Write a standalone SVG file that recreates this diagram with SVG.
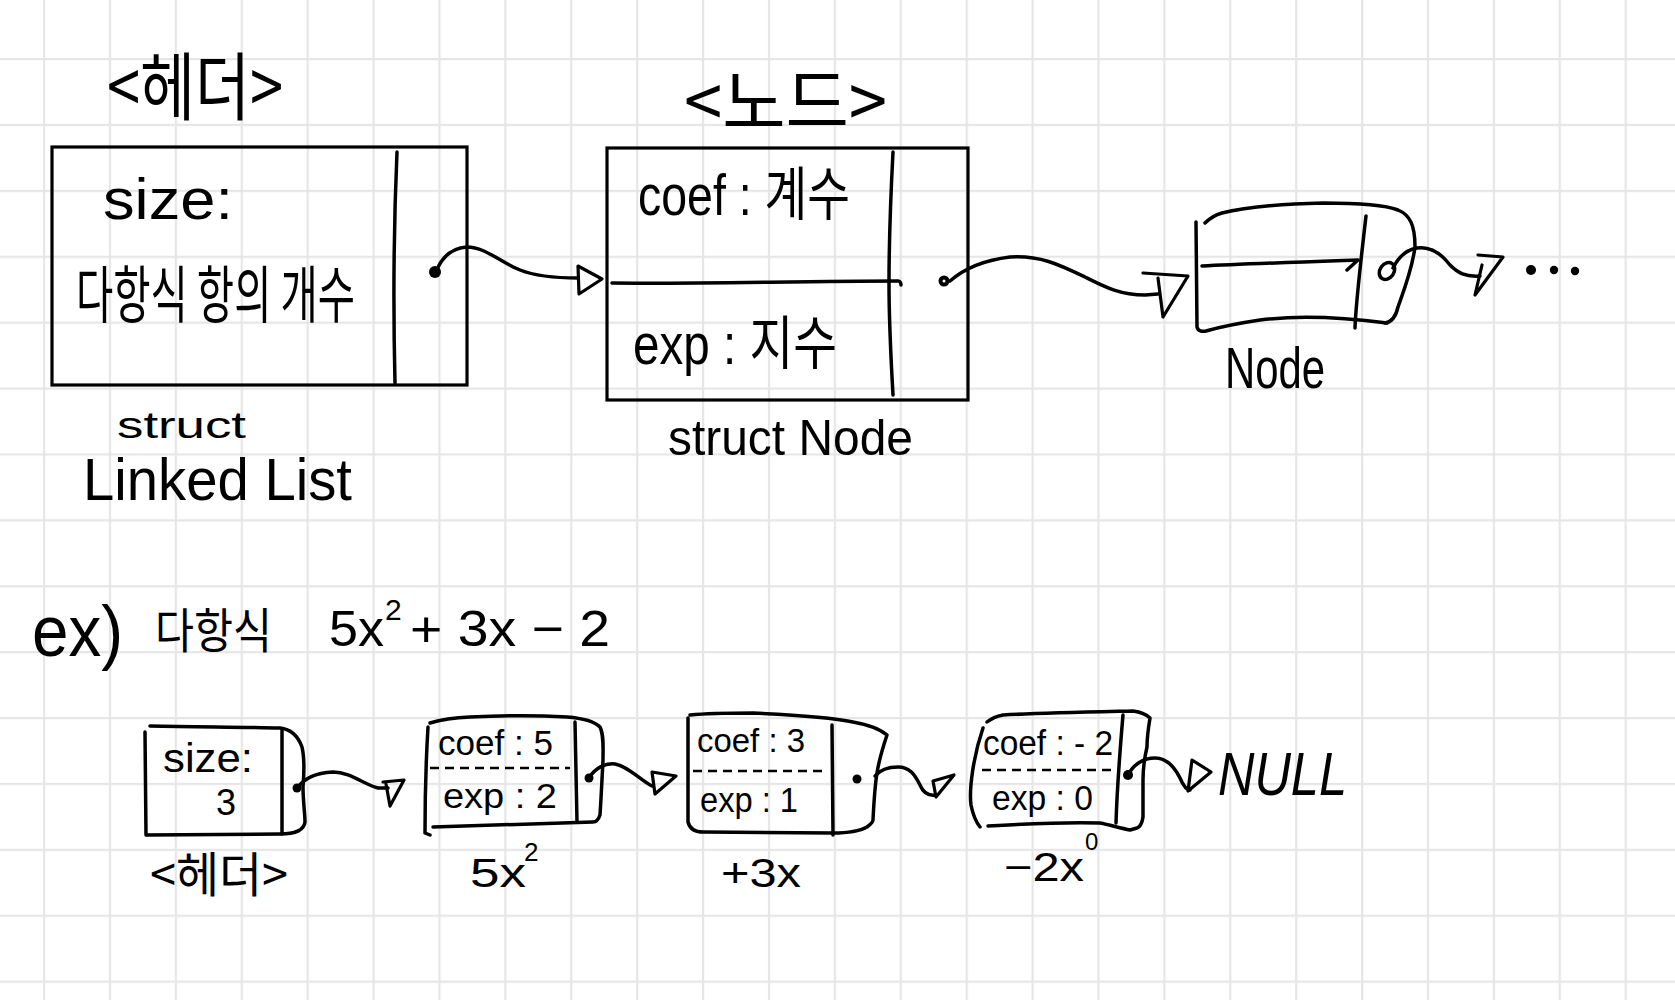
<svg xmlns="http://www.w3.org/2000/svg" width="1675" height="1000" viewBox="0 0 1675 1000">
<defs>
<pattern id="grid" x="43" y="58" width="65.9" height="65.9" patternUnits="userSpaceOnUse">
<rect x="0" y="0" width="2.2" height="65.9" fill="#e6e6e6"/>
<rect x="0" y="0" width="65.9" height="2.2" fill="#e6e6e6"/>
</pattern>
<style>
.ink{fill:none;stroke:#000;stroke-width:3.5;stroke-linecap:round;stroke-linejoin:round}
.box{fill:none;stroke:#000;stroke-width:3.2}
.head{fill:none;stroke:#000;stroke-width:3.2;stroke-linejoin:round;stroke-linecap:round}
.dot{fill:#000}
.t{font-family:"Liberation Sans","Noto Sans CJK KR",sans-serif;fill:#000}
.k{font-family:"Noto Sans CJK KR","Liberation Sans",sans-serif;fill:#000}
.dash{fill:none;stroke:#000;stroke-width:2.5;stroke-dasharray:9 6}
</style>
</defs>
<rect width="1675" height="1000" fill="#fff"/>
<rect width="1675" height="1000" fill="url(#grid)"/>

<g id="header-linkedlist">
<text class="k" x="107" y="114" font-size="74" textLength="176" lengthAdjust="spacingAndGlyphs">&lt;헤더&gt;</text>
<rect class="box" x="52" y="147" width="415" height="238"/>
<path class="ink" d="M397,152 C394,220 393,300 395,383"/>
<circle class="dot" cx="435" cy="272" r="6"/>
<text class="t" x="103" y="219" font-size="58" textLength="130" lengthAdjust="spacingAndGlyphs">size:</text>
<text class="k" x="76" y="318" font-size="62" textLength="279" lengthAdjust="spacingAndGlyphs">다항식 항의 개수</text>
<text class="t" x="117" y="438" font-size="36" textLength="129" lengthAdjust="spacingAndGlyphs">struct</text>
<text class="t" x="83" y="500" font-size="60" textLength="269" lengthAdjust="spacingAndGlyphs">Linked List</text>
</g>

<g id="node-struct">
<text class="k" x="684" y="128" font-size="72" textLength="203" lengthAdjust="spacingAndGlyphs">&lt;노드&gt;</text>
<rect class="box" x="607" y="148" width="361" height="252"/>
<path class="ink" d="M893,152 C890,210 889,260 889,283 C889,320 891,360 893,395"/>
<path class="ink" d="M612,283 C700,284 800,281 898,281 C900,281 901,283 901,285"/>
<circle class="dot" cx="944" cy="281" r="5.5"/>
<circle cx="944" cy="281" r="1.5" fill="#fff"/>
<text class="t" x="638" y="215" font-size="58" textLength="212" lengthAdjust="spacingAndGlyphs">coef : 계수</text>
<text class="t" x="633" y="364" font-size="58" textLength="204" lengthAdjust="spacingAndGlyphs">exp : 지수</text>
<text class="t" x="668" y="455" font-size="50" textLength="245" lengthAdjust="spacingAndGlyphs">struct Node</text>
</g>

<g id="node-small">
<path class="ink" d="M1196,222 L1197,327 C1198,331 1202,332 1206,331 C1220,327 1240,323 1260,320 C1300,315 1340,317 1387,323"/>
<path class="ink" d="M1205,223 C1210,218 1215,215 1222,213 C1245,207 1280,204 1323,203 C1360,203 1385,205 1398,210 C1410,215 1415,225 1415,247 C1412,270 1404,290 1398,307 C1396,316 1392,322 1385,323"/>
<path class="ink" d="M1366,216 C1361,260 1356,300 1355,328"/>
<path class="ink" d="M1202,266 C1240,264 1300,262 1358,260 L1347,270"/>
<ellipse class="ink" cx="1387" cy="271" rx="7" ry="9" transform="rotate(35 1387 271)"/>
<text class="t" x="1225" y="388" font-size="58" textLength="100" lengthAdjust="spacingAndGlyphs">Node</text>
</g>

<g id="ex-formula">
<text class="t" x="32" y="656" font-size="72" textLength="91" lengthAdjust="spacingAndGlyphs">ex)</text>
<text class="k" x="155" y="648" font-size="48" textLength="117" lengthAdjust="spacingAndGlyphs">다항식</text>
<text class="t" x="329" y="646" font-size="50" textLength="55" lengthAdjust="spacingAndGlyphs">5x</text>
<text class="t" x="385" y="620" font-size="30">2</text>
<text class="t" x="410" y="646" font-size="50" textLength="200" lengthAdjust="spacingAndGlyphs">+ 3x − 2</text>
</g>

<g id="ex-header">
<path class="ink" d="M145,732 L146,835"/>
<path class="ink" d="M150,726 C200,727 250,727 280,728 C290,729 298,736 302,747 C305,760 304,775 303,787 C303,800 305,815 305,822 C304,830 295,834 280,834 L147,835"/>
<path class="ink" d="M282,730 L282,834"/>
<circle class="dot" cx="297" cy="788" r="4.5"/>
<text class="t" x="163" y="772" font-size="40" textLength="90" lengthAdjust="spacingAndGlyphs">size:</text>
<text class="t" x="216" y="815" font-size="36">3</text>
<text class="k" x="150" y="892" font-size="48" textLength="138" lengthAdjust="spacingAndGlyphs">&lt;헤더&gt;</text>
</g>

<g id="ex-term1">
<path class="ink" d="M428,727 C426,760 425,800 425,833 L430,835"/>
<path class="ink" d="M430,723 C440,720 450,718 470,717 C510,715 550,716 567,717 C580,718 593,720 600,727 C604,735 603,747 603,760 C602,780 601,800 600,815 C598,821 595,822 593,822 L433,827"/>
<path class="ink" d="M575,722 L577,822"/>
<path class="dash" d="M430,768 L570,768"/>
<circle class="dot" cx="589" cy="778" r="4.5"/>
<text class="t" x="438" y="755" font-size="35" textLength="115" lengthAdjust="spacingAndGlyphs">coef : 5</text>
<text class="t" x="443" y="808" font-size="35" textLength="114" lengthAdjust="spacingAndGlyphs">exp : 2</text>
<text class="t" x="470" y="887" font-size="40" textLength="56" lengthAdjust="spacingAndGlyphs">5x</text>
<text class="t" x="524" y="861" font-size="26">2</text>
</g>

<g id="ex-term2">
<path class="ink" d="M688,718 L688,822 C690,830 697,832 703,832 L833,833 C845,833 860,831 867,827 C871,824 873,822 873,820 C874,800 875,785 877,773 C879,760 883,747 887,735 C880,729 870,725 853,722 C830,717 800,715 753,713 C720,713 700,714 690,715"/>
<path class="ink" d="M832,725 L833,835"/>
<path class="dash" d="M693,771 L823,771"/>
<circle class="dot" cx="857" cy="779" r="4.5"/>
<text class="t" x="697" y="752" font-size="33" textLength="108" lengthAdjust="spacingAndGlyphs">coef : 3</text>
<text class="t" x="700" y="812" font-size="35" textLength="98" lengthAdjust="spacingAndGlyphs">exp : 1</text>
<text class="t" x="721" y="887" font-size="40" textLength="80" lengthAdjust="spacingAndGlyphs">+3x</text>
</g>

<g id="ex-term3">
<path class="ink" d="M983,728 C973,757 969,790 971,805 C973,815 976,822 980,827"/>
<path class="ink" d="M987,722 C992,718 998,716 1003,715 C1040,713 1090,712 1133,711 C1140,712 1146,714 1150,718 C1148,730 1147,740 1147,747 C1144,760 1143,770 1143,780 C1143,795 1143,805 1143,817 C1142,824 1140,827 1137,828 L1130,830 C1120,828 1110,825 1100,823 C1070,822 1040,823 988,826"/>
<path class="ink" d="M1123,715 C1120,750 1117,790 1116,823"/>
<path class="dash" d="M982,770 L1112,770"/>
<circle class="dot" cx="1128" cy="775" r="5"/>
<text class="t" x="983" y="755" font-size="35" textLength="130" lengthAdjust="spacingAndGlyphs">coef : - 2</text>
<text class="t" x="992" y="810" font-size="35" textLength="101" lengthAdjust="spacingAndGlyphs">exp : 0</text>
<text class="t" x="1004" y="881" font-size="40" textLength="80" lengthAdjust="spacingAndGlyphs">−2x</text>
<text class="t" x="1085" y="850" font-size="24">0</text>
</g>

<g id="null-end">
<text class="t" x="1218" y="795" font-size="62" font-style="italic" textLength="129" lengthAdjust="spacingAndGlyphs">NULL</text>
</g>

<g id="connectors">
<path class="ink" d="M436,272 C442,256 452,248 467,247 C485,247 500,262 520,270 C535,276 555,278 578,278"/>
<path class="head" d="M578,266 L602,279 L579,294 Z"/>
<path class="ink" d="M950,281 C965,268 985,260 1010,257 C1040,255 1060,265 1085,277 C1105,287 1120,295 1145,295 L1158,294"/>
<path class="head" d="M1143,273 L1188,276 L1163,317 L1158,278"/>
<path class="ink" d="M1393,268 C1398,258 1405,250 1417,248 C1430,246 1440,252 1450,265 C1458,273 1465,277 1480,276"/>
<path class="head" d="M1478,255 L1503,257 L1475,295 L1482,265"/>
<circle class="dot" cx="1531" cy="270" r="5"/>
<circle class="dot" cx="1554" cy="270" r="4.2"/>
<circle class="dot" cx="1575" cy="271" r="4.2"/>
<path class="ink" d="M297,788 C305,778 315,773 333,772 C350,772 365,785 378,788 L388,788"/>
<path class="head" d="M383,782 L404,780 L390,806 L386,784"/>
<path class="ink" d="M589,778 C595,768 605,763 615,764 C628,766 640,780 652,786"/>
<path class="head" d="M652,772 L676,776 L655,794 Z"/>
<path class="ink" d="M875,776 C880,770 888,767 898,767 C910,767 915,775 920,785 C923,792 928,796 935,795"/>
<path class="head" d="M933,781 L954,775 L936,797 Z"/>
<path class="ink" d="M1128,775 C1133,765 1143,758 1155,758 C1167,758 1175,768 1180,778 C1183,785 1186,790 1190,790"/>
<path class="head" d="M1192,760 L1211,772 L1188,791 Z"/>
</g>
</svg>
